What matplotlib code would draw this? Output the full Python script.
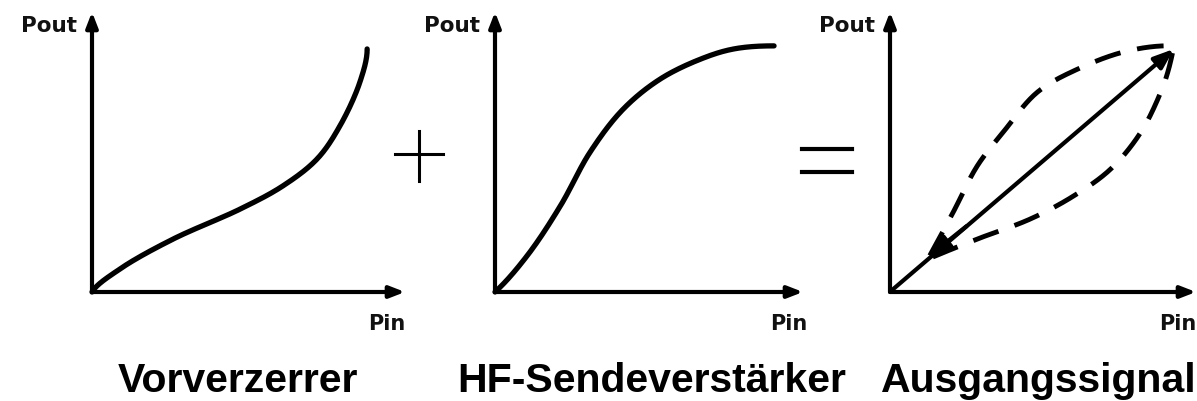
import numpy as np
import matplotlib
matplotlib.use("Agg")
import matplotlib.pyplot as plt
from matplotlib.lines import Line2D

# ---- data (normalized Pin / Pout, 0..1 along each axis) ----
titles = ["Vorverzerrer", "HF-Sendeverstärker", "Ausgangssignal"]

pre_x = [0.0, 0.089, 0.259, 0.473, 0.61, 0.719, 0.792, 0.856, 0.879]
pre_y = [0.0, 0.082, 0.189, 0.296, 0.379, 0.475, 0.593, 0.75, 0.868]

amp_x = [0.0, 0.104, 0.212, 0.309, 0.417, 0.537, 0.668, 0.775, 0.906]
amp_y = [0.0, 0.129, 0.307, 0.5, 0.654, 0.761, 0.832, 0.868, 0.879]

lin_x = [0.01, 0.928]
lin_y = [0.01, 0.868]

up_x = [0.13, 0.207, 0.285, 0.37, 0.482, 0.613, 0.777, 0.928]
up_y = [0.13, 0.286, 0.45, 0.571, 0.714, 0.796, 0.861, 0.879]

lo_x = [0.14, 0.285, 0.459, 0.6, 0.721, 0.82, 0.885, 0.908, 0.928]
lo_y = [0.125, 0.189, 0.261, 0.343, 0.439, 0.571, 0.714, 0.786, 0.879]


def smooth(xs, ys, n=30, alpha=0.5):
    """Centripetal Catmull-Rom curve through the given points (drawing only)."""
    p = np.column_stack([xs, ys]).astype(float)
    first = 3 * p[0] - 3 * p[1] + p[2]
    last = 3 * p[-1] - 3 * p[-2] + p[-3]
    p = np.vstack([first, p, last])
    out = []
    for i in range(1, len(p) - 2):
        P0, P1, P2, P3 = p[i - 1], p[i], p[i + 1], p[i + 2]
        t0 = 0.0
        t1 = t0 + max(np.linalg.norm(P1 - P0), 1e-6) ** alpha
        t2 = t1 + max(np.linalg.norm(P2 - P1), 1e-6) ** alpha
        t3 = t2 + max(np.linalg.norm(P3 - P2), 1e-6) ** alpha
        t = np.linspace(t1, t2, n, endpoint=False)[:, None]
        A1 = (t1 - t) / (t1 - t0) * P0 + (t - t0) / (t1 - t0) * P1
        A2 = (t2 - t) / (t2 - t1) * P1 + (t - t1) / (t2 - t1) * P2
        A3 = (t3 - t) / (t3 - t2) * P2 + (t - t2) / (t3 - t2) * P3
        B1 = (t2 - t) / (t2 - t0) * A1 + (t - t0) / (t2 - t0) * A2
        B2 = (t3 - t) / (t3 - t1) * A2 + (t - t1) / (t3 - t1) * A3
        C = (t2 - t) / (t2 - t1) * B1 + (t - t1) / (t2 - t1) * B2
        out.append(C)
    out.append(p[-2][None, :])
    out = np.vstack(out)
    return out[:, 0], out[:, 1]


W, H = 1197, 402
fig = plt.figure(figsize=(W / 100, H / 100), dpi=100)
fig.patch.set_facecolor("white")

# panel origins / axis tips in pixels
origins = [(92, 293), (495, 293), (890, 293)]
xtips = [405, 803, 1196]
ytop = 13
pin_right = [405, 807, 1196]

axes = []
for (ox, oy), xt, pr in zip(origins, xtips, pin_right):
    ax = fig.add_axes([ox / W, (H - oy) / H, (xt - ox) / W, (oy - ytop) / H])
    ax.set_xlim(0, 1)
    ax.set_ylim(0, 1)
    ax.axis("off")
    axes.append(ax)
    # axes arrows
    for tip in [(1.0, 0), (0, 1.0)]:
        ax.annotate("", xy=tip, xytext=(0, 0),
                    arrowprops=dict(arrowstyle="-|>,head_length=0.9,head_width=0.35",
                                    lw=3.0, color="black", shrinkA=0, shrinkB=0),
                    annotation_clip=False)
    fig.text((ox - 15) / W, (H - 32) / H, "Pout", ha="right", va="baseline",
             fontsize=15.5, fontweight="bold", family="DejaVu Sans", color="#111111")
    fig.text(pr / W, (H - 330) / H, "Pin", ha="right", va="baseline",
             fontsize=15, fontweight="bold", family="DejaVu Sans", color="#111111")

# panel 1: predistorter
x, y = smooth(pre_x, pre_y)
axes[0].plot(x, y, color="black", lw=3.8, solid_capstyle="round", clip_on=False)

# panel 2: amplifier
x, y = smooth(amp_x, amp_y)
axes[1].plot(x, y, color="black", lw=3.8, solid_capstyle="round", clip_on=False)

# panel 3: output signal
a3 = axes[2]
a3.annotate("", xy=(lin_x[1], lin_y[1]), xytext=(lin_x[0], lin_y[0]),
            arrowprops=dict(arrowstyle="-|>,head_length=1.2,head_width=0.45",
                            lw=3.0, color="black", shrinkA=0, shrinkB=0),
            annotation_clip=False)
a3.annotate("", xy=(up_x[0], up_y[0]), xytext=(0.25, 0.235),
            arrowprops=dict(arrowstyle="-|>,head_length=1.2,head_width=0.45",
                            lw=3.0, color="black", shrinkA=0, shrinkB=0),
            annotation_clip=False)
x, y = smooth(up_x, up_y)
a3.plot(x, y, color="black", lw=3.5, dashes=(5.5, 3.5), clip_on=False)
x, y = smooth(lo_x, lo_y)
a3.plot(x, y, color="black", lw=3.5, dashes=(5.5, 3.5), clip_on=False)

# plus and equals signs
fig.add_artist(Line2D([395 / W, 443 / W], [(H - 155) / H] * 2, color="black", lw=2.2))
fig.add_artist(Line2D([419 / W] * 2, [(H - 132) / H, (H - 182) / H], color="black", lw=2.2))
fig.add_artist(Line2D([802 / W, 852 / W], [(H - 150) / H] * 2, color="black", lw=3.0))
fig.add_artist(Line2D([802 / W, 852 / W], [(H - 173) / H] * 2, color="black", lw=3.0))

# titles
title_centers = [238, 652, 1039]
for cx, t in zip(title_centers, titles):
    fig.text(cx / W, (H - 392) / H, t, ha="center", va="baseline",
             fontsize=29.5, fontweight="bold", family="Liberation Sans")

fig.savefig("out.png", dpi=100, facecolor="white")
